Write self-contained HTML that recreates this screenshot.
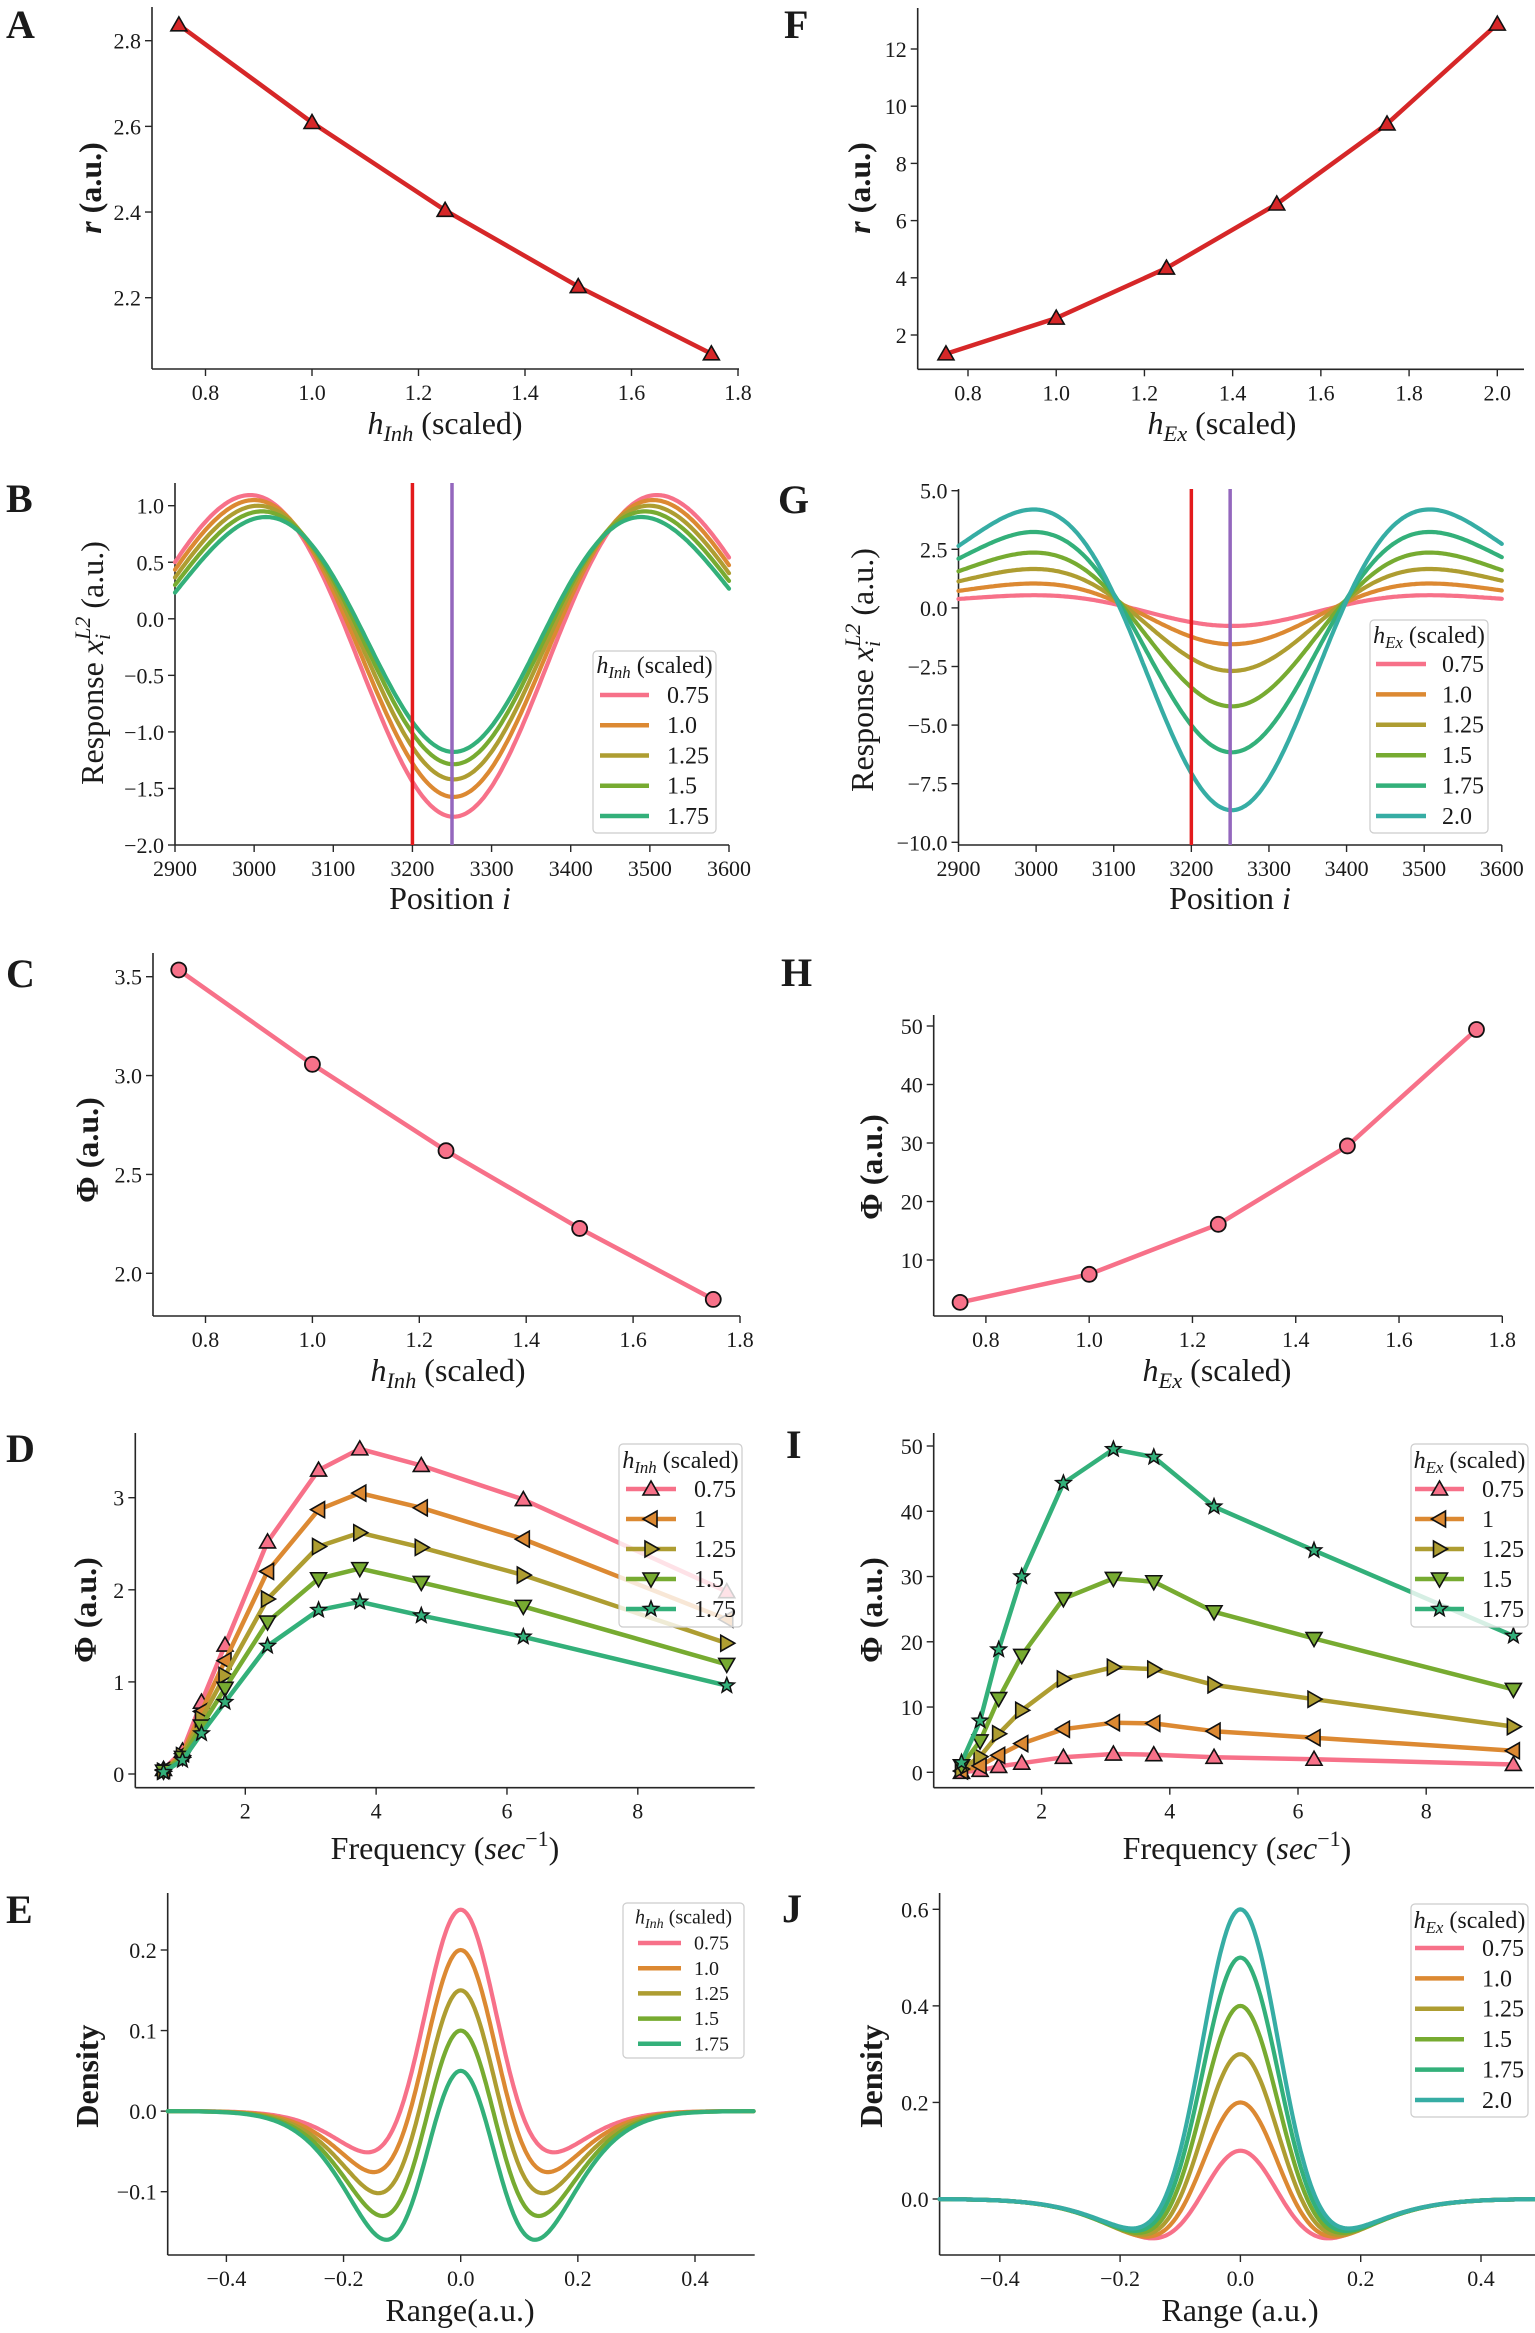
<!DOCTYPE html>
<html><head><meta charset="utf-8"><style>
html,body{margin:0;padding:0;background:#fff}
svg{display:block}
text{font-family:"Liberation Serif","DejaVu Serif",serif;fill:#1a1a1a}
</style></head><body>
<svg id="fig" xmlns="http://www.w3.org/2000/svg" width="1535" height="2333" viewBox="0 0 1535 2333"></svg>
<script>
// ---------- data ----------
const colors=['#f77189','#dc8932','#ae9d31','#77ab31','#33b07a','#36ada4'];
const hInh=[0.75,1.0,1.25,1.5,1.75];
const rInh=[2.837,2.609,2.404,2.226,2.069];
const hEx=[0.75,1.0,1.25,1.5,1.75,2.0];
const rEx=[1.34,2.59,4.34,6.58,9.38,12.87];
const phiInh=[3.534,3.057,2.62,2.227,1.868];
const hExPhi=[0.75,1.0,1.25,1.5,1.75];
const phiEx=[2.76,7.55,16.1,29.5,49.4];
const freq=[0.75,1.04,1.33,1.69,2.34,3.12,3.75,4.69,6.25,9.36];
const dPhi075=[0.05,0.25,0.78,1.4,2.52,3.3,3.53,3.35,2.98,1.98];
const dPhi100=[0.04,0.22,0.68,1.23,2.2,2.87,3.05,2.89,2.55,1.68];
const dPhi125=[0.03,0.2,0.6,1.07,1.9,2.47,2.62,2.46,2.16,1.42];
const dPhi150=[0.03,0.18,0.52,0.93,1.65,2.12,2.23,2.08,1.82,1.19];
const dPhi175=[0.02,0.15,0.44,0.78,1.39,1.78,1.87,1.72,1.49,0.96];
const iPhi075=[0,0.3,0.9,1.4,2.3,2.8,2.7,2.3,2.0,1.2];
const iPhi100=[0.2,1.0,2.6,4.4,6.6,7.6,7.5,6.3,5.3,3.3];
const iPhi125=[0.5,2.4,5.9,9.5,14.3,16.1,15.8,13.4,11.2,7.0];
const iPhi150=[1.0,4.8,11.3,17.9,26.6,29.7,29.2,24.6,20.5,12.7];
const iPhi175=[1.5,7.9,18.8,30.0,44.3,49.5,48.3,40.7,34.0,20.9];
const inhLabels=['0.75','1.0','1.25','1.5','1.75'];
const exLabels=['0.75','1.0','1.25','1.5','1.75','2.0'];
const freqLabels=['0.75','1','1.25','1.5','1.75'];
const freqMarkers=['^','<','>','v','*'];
const bTrough=[-1.75,-1.575,-1.42,-1.286,-1.177];
const bPeak=[1.094,1.05,1.0,0.95,0.90];
const bPeakDist=[257,252,247,242,237];
const gTrough=[-0.77,-1.55,-2.69,-4.2,-6.16,-8.63];
const gPeak=[0.54,1.04,1.66,2.36,3.24,4.2];
const gPeakDist=[255,255,255,255,255,255];
const troughCenter=3252;
const markLines=[3200,3250];
const ePeak=[0.25,0.2,0.15,0.1,0.05];
const eTrough=[-0.0505,-0.075,-0.101,-0.129,-0.158];
const eTroughX=[0.167,0.156,0.148,0.141,0.136];
const jPeak=[0.1,0.2,0.3,0.4,0.5,0.6];
const jTrough=[-0.0815,-0.078,-0.074,-0.07,-0.066,-0.061];
const jTroughX=[0.146,0.155,0.162,0.168,0.174,0.18];
const ticks01=[0.8,1.0,1.2,1.4,1.6,1.8];
const ticksF=[0.8,1.0,1.2,1.4,1.6,1.8,2.0];
const ticksPos=[2900,3000,3100,3200,3300,3400,3500,3600];
const ticksFreq=[2,4,6,8];
const ticksRange=[-0.4,-0.2,0,0.2,0.4];

// ---------- helpers ----------
const NS='http://www.w3.org/2000/svg';
const svg=document.getElementById('fig');
function mk(tag,attrs,parent){const e=document.createElementNS(NS,tag);for(const k in attrs)e.setAttribute(k,attrs[k]);(parent||svg).appendChild(e);return e;}
function lin(v0,p0,v1,p1){return v=>p0+(v-v0)*(p1-p0)/(v1-v0);}
function fmt(v,d){const s=Math.abs(v).toFixed(d);return (v<-1e-9?'\u2212':'')+s;}
function axes(name,L,R,B,T,sx,sy,xt,xd,yt,yd){
  const g=mk('g',{});
  
  
  const ys=mk('line',{x1:L,y1:T,x2:L,y2:B,stroke:'#262626','stroke-width':1.6},g);
  
  
  const xs=mk('line',{x1:L,y1:B,x2:R,y2:B,stroke:'#262626','stroke-width':1.6},g);
  
  
  xt.forEach(v=>{const x=sx(v);
    mk('line',{x1:x,y1:B,x2:x,y2:B+7,stroke:'#262626','stroke-width':1.4},g);
    const t=mk('text',{x:x,y:B+31,'text-anchor':'middle','font-size':22},g);
    t.textContent=fmt(v,xd);
    
    });
  yt.forEach(v=>{const y=sy(v);
    mk('line',{x1:L-7,y1:y,x2:L,y2:y,stroke:'#262626','stroke-width':1.4},g);
    const t=mk('text',{x:L-11,y:y+8,'text-anchor':'end','font-size':22},g);
    t.textContent=fmt(v,yd);
    
    });
  return g;
}
function poly(pts,color,w,parent){return mk('polyline',{points:pts.map(p=>p[0].toFixed(1)+','+p[1].toFixed(1)).join(' '),fill:'none',stroke:color,'stroke-width':w,'stroke-linejoin':'round','stroke-linecap':'round'},parent);}
function marker(type,cx,cy,fill,parent){
  let e;const s=8;
  if(type==='o'){e=mk('circle',{cx:cx,cy:cy,r:7.5,fill:fill,stroke:'#111','stroke-width':1.8},parent);}
  else if(type==='*'){let p=[];for(let k=0;k<10;k++){const r=k%2?3.4:8,a=-Math.PI/2+k*Math.PI/5;p.push((cx+r*Math.cos(a)).toFixed(1)+','+(cy+r*Math.sin(a)).toFixed(1));}
    e=mk('polygon',{points:p.join(' '),fill:fill,stroke:'#111','stroke-width':1.5},parent);}
  else{const rot={'^':0,'>':90,'v':180,'<':270}[type];
    e=mk('polygon',{points:`${cx},${cy-s} ${cx-s},${cy+s*0.75} ${cx+s},${cy+s*0.75}`,fill:fill,stroke:'#111','stroke-width':1.6,transform:`rotate(${rot},${cx},${cy})`},parent);}
  return e;
}
function panelLetter(ch,x,y){const t=mk('text',{x:x,y:y,'font-size':40,'font-weight':'bold'});t.textContent=ch;
  
  }
function hLabel(t,sub,fs){
  const a=mk('tspan',{'font-style':'italic'},t);a.textContent='h';
  const b=mk('tspan',{'font-style':'italic','font-size':fs*0.7,dy:fs*0.22},t);b.textContent=sub;
  const c=mk('tspan',{dy:-fs*0.22},t);c.textContent=' (scaled)';
}
function xLabelH(name,cx,y,sub){const t=mk('text',{x:cx,y:y,'text-anchor':'middle','font-size':32});hLabel(t,sub,32);
  
  }
function yLabel(name,cx,cy,parts,bold){
  const t=mk('text',{x:cx,y:cy+11,'text-anchor':'middle','font-size':32,'font-weight':bold?'bold':'normal',transform:`rotate(-90,${cx},${cy})`});
  parts.forEach(p=>{const s=mk('tspan',p.a||{},t);s.textContent=p.t;});
  
  
}
function plainX(name,cx,y,parts){const t=mk('text',{x:cx,y:y,'text-anchor':'middle','font-size':32});
  parts.forEach(p=>{const s=mk('tspan',p.a||{},t);s.textContent=p.t;});
  
  }
function legend(name,L,T,W,H,sub,titleY,row0,dRow,labels,cols,markers,sx0,sx1,lx,fs){
  const g=mk('g',{});
  
  
  mk('rect',{x:L,y:T,width:W,height:H,rx:4,fill:'#fff','fill-opacity':0.8,stroke:'#cccccc','stroke-width':1.2},g);
  const t=mk('text',{x:L+W/2,y:titleY+fs*0.33,'text-anchor':'middle','font-size':fs},g);hLabel(t,sub,fs);
  
  
  labels.forEach((lab,i)=>{const y=row0+i*dRow;
    const e=mk('g',{},g);
    
    
    mk('line',{x1:sx0,y1:y,x2:sx1,y2:y,stroke:cols[i],'stroke-width':4.5},e);
    if(markers)marker(markers[i],(sx0+sx1)/2,y,cols[i],e);
    const tx=mk('text',{x:lx,y:y+fs*0.33,'font-size':fs},e);tx.textContent=lab;});
}
function mexican(trough,peak,pd,d){const amp=(peak-trough)/(1+2*Math.exp(-1.5));const off=trough+amp;const w=pd/Math.sqrt(3);const u=d/w;return off-amp*(1-u*u)*Math.exp(-u*u/2);}
function cosShape(trough,peak,pd,d){const off=(peak+trough)/2,amp=(peak-trough)/2;return off-amp*Math.cos(Math.PI*d/pd);}
function blendShape(trough,peak,pd,d){return 0.5*mexican(trough,peak,pd,d)+0.5*cosShape(trough,peak,pd,d);}
function dog(P,T,xt,s1,s2,x){const g=(v,s)=>Math.exp(-v*v/(2*s*s));const g1=g(xt,s1),g2=g(xt,s2);const b=(T-P*g1)/(g1-g2);const a=P+b;return a*g(x,s1)-b*g(x,s2);}

// ---------- Panel A ----------
{const sx=lin(0.8,205.5,1.8,738),sy=lin(2.8,40.7,2.2,297.7);
 axes('panel-a',152,739,369,7,sx,sy,ticks01,1,[2.2,2.4,2.6,2.8],1);
 const g=mk('g',{});
 poly(hInh.map((h,i)=>[sx(h),sy(rInh[i])]),'#d62728',4.5,g);
 hInh.forEach((h,i)=>{const m=marker('^',sx(h),sy(rInh[i]),'#d62728',g);});
 panelLetter('A',6,38);
 yLabel('panel-a',90,188,[{t:'r',a:{'font-style':'italic'}},{t:' (a.u.)'}],true);
 xLabelH('panel-a',445,434,'Inh');}
// ---------- Panel F ----------
{const sx=lin(0.8,968,2.0,1497.3),sy=lin(12,49,2,335);
 axes('panel-f',917.7,1524,369.3,8,sx,sy,ticksF,1,[2,4,6,8,10,12],0);
 const g=mk('g',{});
 poly(hEx.map((h,i)=>[sx(h),sy(rEx[i])]),'#d62728',4.5,g);
 hEx.forEach((h,i)=>{const m=marker('^',sx(h),sy(rEx[i]),'#d62728',g);});
 panelLetter('F',784,38);
 yLabel('panel-f',859,188,[{t:'r',a:{'font-style':'italic'}},{t:' (a.u.)'}],true);
 xLabelH('panel-f',1222,434,'Ex');}
// ---------- Panel B / G ----------
function respPanel(name,letter,lx,ly,L,R,B,T,sx,sy,yt,troughs,peaks,pds,labels,legArgs,ylx,yly,xlx,shape){
  axes(name,L,R,B,T,sx,sy,ticksPos,0,yt,1);
  const g=mk('g',{});
  troughs.forEach((tr,i)=>{const pts=[];for(let k=0;k<=280;k++){const x=2900+k*2.5;pts.push([sx(x),sy(shape(tr,peaks[i],pds[i],x-troughCenter))]);}
    const p=poly(pts,colors[i],4.2,g);});
  const vc=['#e31a1c','#9467bd'];
  markLines.forEach((m,i)=>{const l=mk('line',{x1:sx(m),y1:T,x2:sx(m),y2:B,stroke:vc[i],'stroke-width':3.5},g);});
  legend(...legArgs);
  panelLetter(letter,lx,ly);
  yLabel(name,ylx,yly,[{t:'Response '},{t:'x',a:{'font-style':'italic'}},{t:'i',a:{'font-style':'italic','font-size':22,dy:7}},{t:'L2',a:{'font-style':'italic','font-size':22,dy:-20,dx:-6}},{t:' (a.u.)',a:{dy:13}}],false);
  plainX(name,xlx,909,[{t:'Position '},{t:'i',a:{'font-style':'italic'}}]);
}
respPanel('panel-b','B',6,512,175,729,845,483,lin(2900,175,3600,729),lin(1,505.7,-2,845),[-2,-1.5,-1,-0.5,0,0.5,1],bTrough,bPeak,bPeakDist,inhLabels,
  ['panel-b',593,651,123,182,'Inh',665,695,30.25,inhLabels,colors,null,600,649,667,24],92,663,450,blendShape);
respPanel('panel-g','G',778,513,958.5,1501.8,845,489,lin(2900,958.5,3600,1501.8),lin(5,490.7,-10,842.3),[-10,-7.5,-5,-2.5,0,2.5,5],gTrough,gPeak,gPeakDist,exLabels,
  ['panel-g',1370,620,118,213,'Ex',635,664,30.4,exLabels,colors,null,1376,1426,1442,24],862,670,1230,mexican);
// ---------- Panel C ----------
{const sx=lin(0.8,205.5,1.8,740),sy=lin(3.5,976.7,2.0,1273.3);
 axes('panel-c',153,740,1316,953,sx,sy,ticks01,1,[2.0,2.5,3.0,3.5],1);
 const g=mk('g',{});
 poly(hInh.map((h,i)=>[sx(h),sy(phiInh[i])]),colors[0],4.5,g);
 hInh.forEach((h,i)=>{const m=marker('o',sx(h),sy(phiInh[i]),colors[0],g);});
 panelLetter('C',6,987);
 yLabel('panel-c',87,1150,[{t:'\u03A6 (a.u.)'}],true);
 xLabelH('panel-c',448,1381,'Inh');}
// ---------- Panel H ----------
{const sx=lin(0.8,985.9,1.8,1502.3),sy=lin(50,1026,10,1260);
 axes('panel-h',933.7,1502.3,1316,1015,sx,sy,ticks01,1,[10,20,30,40,50],0);
 const g=mk('g',{});
 poly(hExPhi.map((h,i)=>[sx(h),sy(phiEx[i])]),colors[0],4.5,g);
 hExPhi.forEach((h,i)=>{const m=marker('o',sx(h),sy(phiEx[i]),colors[0],g);});
 panelLetter('H',781,986);
 yLabel('panel-h',871,1167,[{t:'\u03A6 (a.u.)'}],true);
 xLabelH('panel-h',1217,1381,'Ex');}
// ---------- Panel D / I ----------
function freqPanel(name,letter,lx,ly,L,R,sx,sy,yt,series,sub,legL,legW,sx0,sx1,llx,ylx,xlx){
  axes(name,L,R,1787.7,1433,sx,sy,ticksFreq,0,yt,0);
  const g=mk('g',{});
  series.forEach((s,i)=>{const p=poly(freq.map((f,k)=>[sx(f),sy(s[k])]),colors[i],4.5,g);
    
    freq.forEach((f,k)=>{const m=marker(freqMarkers[i],sx(f),sy(s[k]),colors[i],g);});});
  legend(name,legL,1444,legW,183,sub,1460,1489,30,freqLabels,colors,freqMarkers,sx0,sx1,llx,24);
  panelLetter(letter,lx,ly);
  yLabel(name,ylx,1610,[{t:'\u03A6 (a.u.)'}],true);
  plainX(name,xlx,1859,[{t:'Frequency ('},{t:'sec',a:{'font-style':'italic'}},{t:'\u22121',a:{'font-size':22,dy:-13}},{t:')',a:{dy:13}}]);
}
freqPanel('panel-d','D',6,1462,135.3,754.7,lin(2,245.3,8,637.8),lin(3,1497.7,0,1774),[0,1,2,3],[dPhi075,dPhi100,dPhi125,dPhi150,dPhi175],'Inh',619,123,626,676,694,85,445);
freqPanel('panel-i','I',786,1458,933.7,1534,lin(2,1041.6,8,1426.2),lin(50,1446,0,1772.3),[0,10,20,30,40,50],[iPhi075,iPhi100,iPhi125,iPhi150,iPhi175],'Ex',1411,117,1415,1464,1482,871,1237);
// ---------- Panel E / J ----------
function densPanel(name,letter,lx,ly,L,R,sx,sy,yt,peaks,troughs,txs,s1,s2,labels,legArgs,ylx,xlx,xtitle){
  axes(name,L,R,2255,1893,sx,sy,ticksRange,1,yt,1);
  const g=mk('g',{});
  peaks.forEach((P,i)=>{const pts=[];for(let k=0;k<=300;k++){const x=-0.5+k/300;const px=sx(x);if(px>R+0.5)break;pts.push([px,sy(dog(P,troughs[i],txs[i],s1,s2,x))]);}
    const p=poly(pts,colors[i],4.2,g);});
  legend(...legArgs);
  panelLetter(letter,lx,ly);
  yLabel(name,ylx,2076,[{t:'Density'}],true);
  plainX(name,xlx,2321,[{t:xtitle}]);
}
densPanel('panel-e','E',6,1923,167.7,754.7,lin(-0.4,226.4,0.4,695),lin(0.2,1950,-0.1,2191.7),[-0.1,0,0.1,0.2],ePeak,eTrough,eTroughX,0.065,0.12,inhLabels,
  ['panel-e',623,1903,121,155,'Inh',1917,1943,25.2,inhLabels,colors,null,638,681,694,20],87,460,'Range(a.u.)');
densPanel('panel-j','J',782,1922,939.6,1535,lin(-0.4,999.8,0.4,1481),lin(0.6,1909.3,0,2199),[0,0.2,0.4,0.6],jPeak,jTrough,jTroughX,0.065,0.14,exLabels,
  ['panel-j',1411,1904,117,213,'Ex',1920,1948,30.4,exLabels,colors,null,1415,1464,1482,24],871,1240,'Range (a.u.)');
</script>
</body></html>
